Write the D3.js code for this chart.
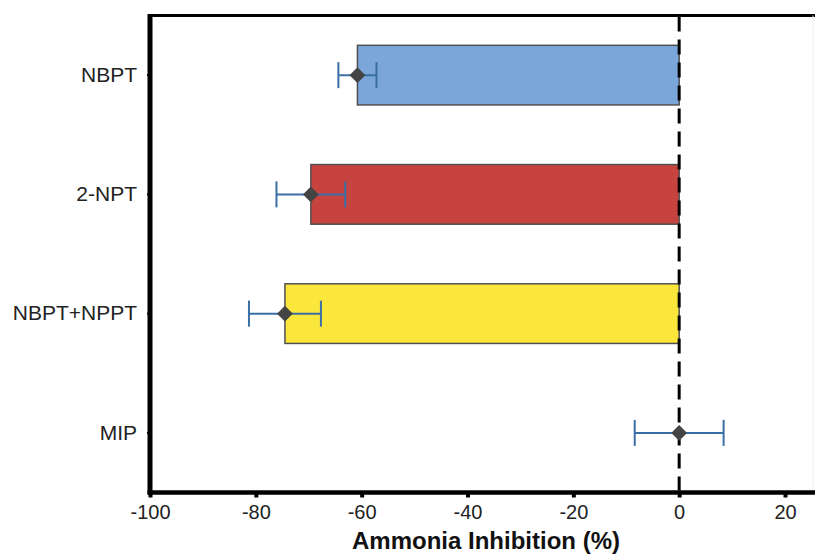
<!DOCTYPE html>
<html>
<head>
<meta charset="utf-8">
<script src="https://cdn.jsdelivr.net/npm/d3@7"></script>
<style>
  html, body { margin: 0; padding: 0; background: #fff; }
  svg { display: block; font-family: "Liberation Sans", Arial, sans-serif; }
</style>
</head>
<body>
<svg id="chart" width="815" height="556"></svg>
<script>
const categories = ["NBPT", "2-NPT", "NBPT+NPPT", "MIP"];
const values = [-60.8, -69.6, -74.5, 0];
const errors = [3.6, 6.5, 6.8, 8.4];
const barColors = ["#7aa6d9", "#c74340", "#fbe73b", "#ffffff"];
const xTicks = [-100, -80, -60, -40, -20, 0, 20];
const xTitle = "Ammonia Inhibition (%)";

const svg = d3.select("#chart");
const mLeft = 150, mRight = 815, mTop = 15.5, mBottom = 492.5;

const x = d3.scaleLinear().domain([-100, 20]).range([mLeft, 785]);
const y = d3.scaleBand().domain(categories).range([mTop, mBottom])
  .paddingInner(0.5).paddingOuter(0.25);

// bars
svg.append("g").selectAll("rect").data(categories).join("rect")
  .attr("x", (d, i) => x(Math.min(0, values[i])))
  .attr("y", d => y(d))
  .attr("width", (d, i) => Math.abs(x(values[i]) - x(0)))
  .attr("height", y.bandwidth())
  .attr("fill", (d, i) => barColors[i])
  .attr("stroke", "#505050")
  .attr("stroke-width", 1.5);

// dashed zero line
svg.append("line")
  .attr("x1", x(0)).attr("x2", x(0))
  .attr("y1", mTop + 1).attr("y2", mBottom - 2)
  .attr("stroke", "#000").attr("stroke-width", 3)
  .attr("stroke-dasharray", "15,8");

// error bars
const eg = svg.append("g").attr("stroke", "#3a6fa6").attr("stroke-width", 2);
categories.forEach((c, i) => {
  const cy = y(c) + y.bandwidth() / 2;
  const x1 = x(values[i] - errors[i]), x2 = x(values[i] + errors[i]);
  eg.append("line").attr("x1", x1).attr("x2", x2).attr("y1", cy).attr("y2", cy);
  eg.append("line").attr("x1", x1).attr("x2", x1).attr("y1", cy - 13).attr("y2", cy + 13);
  eg.append("line").attr("x1", x2).attr("x2", x2).attr("y1", cy - 13).attr("y2", cy + 13);
});

// diamonds
svg.append("g").selectAll("path").data(categories).join("path")
  .attr("d", d3.symbol().type(d3.symbolDiamond2 || d3.symbolDiamond).size(160))
  .attr("transform", (d, i) => `translate(${x(values[i])},${y(d) + y.bandwidth() / 2})`)
  .attr("fill", "#444444");

// frame: top border and faint right edge
svg.append("line").attr("x1", mLeft - 2).attr("x2", mRight).attr("y1", mTop).attr("y2", mTop)
  .attr("stroke", "#000").attr("stroke-width", 3);
svg.append("line").attr("x1", 813).attr("x2", 813).attr("y1", mTop).attr("y2", mBottom)
  .attr("stroke", "#ececec").attr("stroke-width", 1);

// x axis
const xAxis = svg.append("g").attr("transform", `translate(0,${mBottom})`)
  .call(d3.axisBottom(x).tickValues(xTicks).tickSize(5).tickPadding(7).tickFormat(d3.format("d")));
xAxis.select(".domain").attr("d", `M${mLeft - 2.5},0H${mRight}`).attr("stroke-width", 4.5);
xAxis.selectAll(".tick line").attr("stroke-width", 4);
xAxis.selectAll(".tick text").attr("font-size", 20).attr("fill", "#222")
  .attr("font-family", "Liberation Sans, Arial, sans-serif").text(d => d < 0 ? "-" + Math.abs(d) : d);

// y axis
const yAxis = svg.append("g").attr("transform", `translate(${mLeft},0)`)
  .call(d3.axisLeft(y).tickSize(3).tickPadding(10));
yAxis.select(".domain").attr("d", `M0,${mTop - 1.5}V${mBottom + 2}`).attr("stroke-width", 5);
yAxis.selectAll(".tick line").attr("stroke-width", 2);
yAxis.selectAll(".tick text").attr("font-size", 21).attr("fill", "#222")
  .attr("font-family", "Liberation Sans, Arial, sans-serif");

// x title
svg.append("text")
  .attr("x", 486).attr("y", 549)
  .attr("text-anchor", "middle")
  .attr("font-size", 24).attr("font-weight", "bold").attr("fill", "#111")
  .text(xTitle);
</script>
</body>
</html>
